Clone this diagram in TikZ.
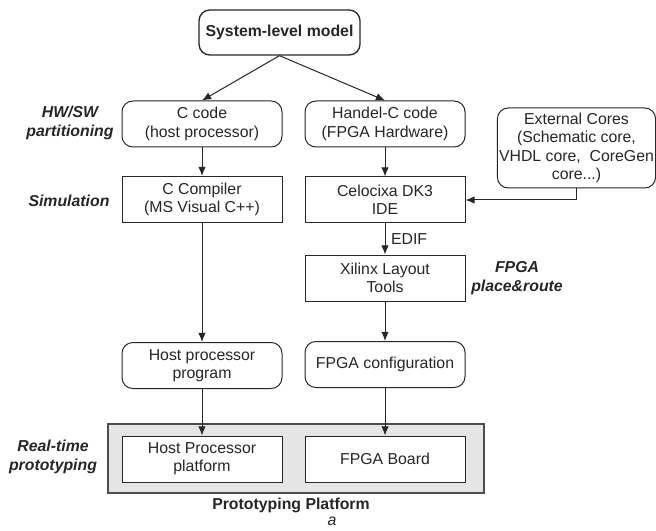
\documentclass[tikz,border=0pt]{standalone}
\usepackage{fontspec}
\setmainfont{Liberation Sans}
\usetikzlibrary{arrows.meta}
\usetikzlibrary{positioning}

\begin{document}
\begin{tikzpicture}
	 [> = {Latex[length=5.5pt,width=4.5pt]},
	x=0.6pt, y=-0.6pt,
	every node/.style = {font=\fontsize{9.5}{11}\selectfont, align=center, text=black!85},
	blk/.style = {draw=black!85, line width=0.6pt, minimum width=96pt, minimum height=27.6pt, inner sep=1pt},
	rblk/.style = {blk, rounded corners=6.5pt},
	phase/.style = {font=\fontsize{9.5}{11}\selectfont\bfseries\itshape},
	flow/.style = {->, line width=0.6pt, draw=black!85}
	]
	\useasboundingbox (0,0) rectangle (656,531);

	\node[rblk, minimum width=96.6pt, minimum height=27pt, line width=0.8pt, font=\fontsize{9.5}{11}\selectfont\bfseries] (sys) at (279.5,32.5) {System-level model};
	\node[rblk] (ccode) at (202,124) {C code\\(host processor)};
	\node[rblk] (handel) at (385,124) {Handel-C code\\(FPGA Hardware)};
	\node[rblk, minimum width=94pt, minimum height=48pt] (ext) at (576.5,148) {External Cores\\(Schematic core,\\VHDL core,~ CoreGen\\core...)};
	\node[blk] (ccomp) at (202,199.5) {C Compiler\\(MS Visual C++)};
	\node[blk] (celo) at (385,200) {Celocixa DK3\\IDE};
	\node[blk] (xil) at (385,278) {Xilinx Layout\\Tools};
	\node[rblk] (hostprog) at (202,365.5) {Host processor\\program};
	\node[rblk] (fpgacfg) at (385,364.5) {FPGA configuration};

	\node[draw=black!70, fill=black!10, line width=0.9pt, minimum width=225.6pt, minimum height=41.4pt] (platform) at (296,458.5) {};
	\node[blk, fill=white] (hostplat) at (202,459) {Host Processor\\platform};
	\node[blk, fill=white] (board) at (385,459) {FPGA Board};
	\node[font=\fontsize{9.5}{11}\selectfont\bfseries] (platlbl) at (291,505) {Prototyping Platform};
	\node[font=\fontsize{9.5}{11}\selectfont\itshape] (sub) at (332,521) {a};

	\node[phase] (hwsw) at (70,123) {HW/SW\\partitioning};
	\node[phase] (sim) at (69,201) {Simulation};
	\node[phase] (par) at (517,278) {FPGA\\place\&route};
	\node[phase] (rtp) at (53,457) {Real-time\\prototyping};

	\draw[flow] (sys.south) -- (ccode.north);
	\draw[flow] (sys.south) -- (handel.north);
	\draw[flow] (ccode) -- (ccomp);
	\draw[flow] (ccomp) -- (hostprog);
	\draw[flow] (hostprog) -- (hostplat);
	\draw[flow] (handel) -- (celo);
	\draw[flow] (ext.south) |- (celo.east);
	\draw[flow] (celo) -- node[right] {EDIF} (xil);
	\draw[flow] (xil) -- (fpgacfg);
	\draw[flow] (fpgacfg) -- (board);
\end{tikzpicture}
\end{document}
